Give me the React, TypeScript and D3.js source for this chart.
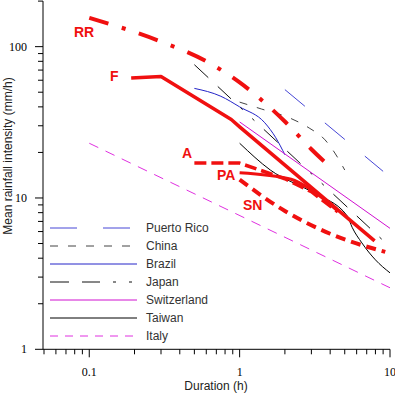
import React from 'react'
import * as d3 from 'd3'

const W = 395
const H = 394

// [duration (h), mean intensity (mm/h)]
const puertoRico = [[2, 52], [9, 15]]
const china = [[1, 43], [1.4, 38.7], [2.15, 33.8], [2.9, 29], [3.7, 24.2], [4.3, 19.8], [5, 15.3]]
const brazil = [[0.5, 53], [0.75, 47], [1, 40], [1.47, 31.4], [1.74, 25], [2, 19.3]]
const japan = [[0.5, 76], [10, 4.75]]
const switzerland = [[1, 31.8], [10, 6.3]]
const taiwan = [[1, 23], [1.6, 15.3], [3.1, 10.8], [5.2, 7.6], [5.6, 6.4], [6.5, 5.05], [8, 3.9], [10, 3.2]]
const italy = [[0.1, 23], [10, 2.55]]

const rr = [[0.1, 155], [0.3, 108], [0.6, 80], [1, 58], [2, 32], [3, 21], [4, 16]]
const fSeries = [[0.19, 62], [0.3, 63.5], [0.88, 33], [1, 29.5], [7.9, 5.2]]
const aSeries = [[0.5, 17], [1, 17], [2, 13.4], [3, 11], [4.5, 8.1]]
const paSeries = [[1, 14.7], [2.2, 13.3], [3, 11.3], [4.5, 8.2]]
const snSeries = [[1, 13.2], [2, 8.2], [4, 5.8], [9.3, 4.4]]

const xMajor = [0.1, 1, 10]
const yMajor = [1, 10, 100]

const legendNames = ['Puerto Rico', 'China', 'Brazil', 'Japan', 'Switzerland', 'Taiwan', 'Italy']

export default function App() {
  const x = d3.scaleLog().domain([0.05, 10]).range([44, 390])
  const y = d3.scaleLog().domain([1, 200]).range([349.3, 1.1])

  const lin = d3.line<number[]>().x(d => x(d[0])).y(d => y(d[1]))
  const smooth = d3.line<number[]>().x(d => x(d[0])).y(d => y(d[1])).curve(d3.curveMonotoneX)

  const thin = [
    { name: 'Puerto Rico', data: puertoRico, color: '#4646d6', dash: '26,26', curve: lin },
    { name: 'China', data: china, color: '#444', dash: '8,10', curve: smooth },
    { name: 'Brazil', data: brazil, color: '#2424c8', dash: null, curve: smooth },
    { name: 'Japan', data: japan, color: '#111', dash: '19,13,18,13,3,13,3,13', curve: lin },
    { name: 'Switzerland', data: switzerland, color: '#d010d0', dash: null, curve: lin },
    { name: 'Taiwan', data: taiwan, color: '#000', dash: null, curve: smooth },
    { name: 'Italy', data: italy, color: '#e030e0', dash: '10,8', curve: lin },
  ]

  const red = '#f01010'
  const thick = [
    { data: rr, width: 4, dash: '20,14,4,14', curve: smooth },
    { data: fSeries, width: 3.5, dash: null, curve: lin },
    { data: aSeries, width: 3.5, dash: '12,5', curve: lin },
    { data: paSeries, width: 3, dash: null, curve: smooth },
    { data: snSeries, width: 4, dash: '10,6', curve: smooth },
  ]

  const labels = [
    { t: 'RR', x: 74, y: 37 },
    { t: 'F', x: 110, y: 81 },
    { t: 'A', x: 182, y: 158 },
    { t: 'PA', x: 217, y: 180 },
    { t: 'SN', x: 243, y: 210 },
  ]

  const xTicks = x.ticks()
  const yTicks = y.ticks()
  const isMajor = (v: number) => Math.abs(Math.log10(v) - Math.round(Math.log10(v))) < 1e-6
  const x0 = 43
  const y0 = 349.3

  return (
    <svg width={W} height={H} style={{ position: 'absolute', left: 0, top: 0 }}>
      <rect width={W} height={H} fill="#fff" />

      {thin.map(s => (
        <path key={s.name} d={s.curve(s.data) || ''} fill="none" stroke={s.color}
          strokeWidth={1} strokeDasharray={s.dash || undefined} />
      ))}

      {thick.map((s, i) => (
        <path key={i} d={s.curve(s.data) || ''} fill="none" stroke={red}
          strokeWidth={s.width} strokeDasharray={s.dash || undefined} strokeLinejoin="round" />
      ))}

      {labels.map(l => (
        <text key={l.t} x={l.x} y={l.y} fill={red} fontFamily="Liberation Sans, Arial, sans-serif"
          fontWeight="bold" fontSize={14}>{l.t}</text>
      ))}

      {/* legend */}
      <g>
        {thin.map((s, i) => (
          <g key={s.name} transform={`translate(0, ${228 + i * 18})`}>
            <line x1={50} x2={137} y1={0} y2={0} stroke={s.color} strokeWidth={1}
              strokeDasharray={s.name === 'Italy' ? '8,7' : s.name === 'Puerto Rico' ? '27,26' : s.dash || undefined} />
            <text x={146} y={4} fontSize={12} fill="#333" fontFamily="Liberation Sans, Arial, sans-serif">{legendNames[i]}</text>
          </g>
        ))}
      </g>

      {/* axes */}
      <line x1={x0} x2={x0} y1={y(200)} y2={y0} stroke="#000" />
      <line x1={x0} x2={x(10)} y1={y0} y2={y0} stroke="#000" />
      {xTicks.map((t, i) => (
        <line key={'xt' + i} x1={x(t)} x2={x(t)} y1={y0} y2={y0 + (isMajor(t) ? 8 : 5)} stroke="#000" />
      ))}
      {yTicks.map((t, i) => (
        <line key={'yt' + i} x1={x0 - (isMajor(t) ? 8 : 5)} x2={x0} y1={y(t)} y2={y(t)} stroke="#000" />
      ))}
      {xMajor.map(t => (
        <text key={'xl' + t} x={x(t)} y={376} textAnchor="middle" fontSize={12}
          fontFamily="Liberation Serif, Times New Roman, serif">{t}</text>
      ))}
      {yMajor.map(t => (
        <text key={'yl' + t} x={27} y={y(t) + 4} textAnchor="end" fontSize={12}
          fontFamily="Liberation Serif, Times New Roman, serif">{t}</text>
      ))}
      <text x={216} y={390} textAnchor="middle" fontSize={12} fill="#222"
        fontFamily="Liberation Sans, Arial, sans-serif">Duration (h)</text>
      <text transform="translate(12, 156) rotate(-90)" textAnchor="middle" fontSize={12} fill="#222"
        fontFamily="Liberation Sans, Arial, sans-serif">Mean rainfall intensity (mm/h)</text>
    </svg>
  )
}
